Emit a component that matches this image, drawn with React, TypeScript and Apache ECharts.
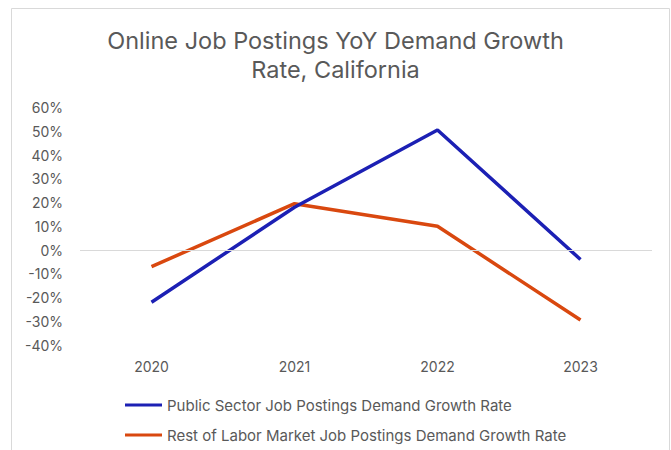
import React, { useEffect, useRef } from "react";
import * as echarts from "echarts";

const categories = ["2020", "2021", "2022", "2023"];
const publicSector = [-22, 18, 50.5, -4];
const restOfMarket = [-7, 19.5, 10, -29.5];
const seriesNames = [
  "Public Sector Job Postings Demand Growth Rate",
  "Rest of Labor Market Job Postings Demand Growth Rate",
];
const titleText = "Online Job Postings YoY Demand Growth\nRate, California";

export default function App() {
  const ref = useRef<HTMLDivElement>(null);
  useEffect(() => {
    document.body.style.margin = "0";
    const chart = echarts.init(ref.current!, null, { renderer: "svg" });
    const font = "Inter, 'Liberation Sans', Arial, sans-serif";
    const legendBase = {
      orient: "horizontal",
      left: 125,
      padding: 0,
      itemWidth: 37,
      itemHeight: 3,
      icon: "rect",
      textStyle: { color: "#595959", fontSize: 15, lineHeight: 16, fontFamily: font },
    };
    chart.setOption({
      animation: false,
      backgroundColor: "#ffffff",
      textStyle: { fontFamily: font },
      title: {
        text: titleText,
        left: "center",
        top: 21,
        textStyle: {
          fontSize: 23.5,
          fontWeight: "normal",
          color: "#595959",
          lineHeight: 29,
          fontFamily: font,
        },
      },
      graphic: [
        {
          type: "rect",
          shape: { x: 11.5, y: 8.5, width: 658, height: 460 },
          style: { fill: "none", stroke: "#d9d9d9", lineWidth: 1 },
          silent: true,
        },
      ],
      grid: { left: 80, right: 19, top: 107.5, bottom: 105, containLabel: false },
      xAxis: {
        type: "category",
        data: categories,
        boundaryGap: true,
        axisLine: { show: false },
        axisTick: { show: false },
        axisLabel: { color: "#595959", fontSize: 14, margin: 14, fontFamily: font },
        splitLine: { show: false },
      },
      yAxis: {
        type: "value",
        min: -40,
        max: 60,
        interval: 10,
        axisLine: { show: false },
        axisTick: { show: false },
        splitLine: { show: false },
        axisLabel: {
          color: "#595959",
          fontSize: 14,
          margin: 17,
          fontFamily: font,
          formatter: (v: number) => `${v}%`,
        },
      },
      legend: [
        { ...legendBase, top: 397, data: [seriesNames[0]] },
        { ...legendBase, top: 427, data: [seriesNames[1]] },
      ],
      series: [
        {
          name: seriesNames[0],
          type: "line",
          data: publicSector,
          symbol: "none",
          lineStyle: { color: "#1c20b4", width: 3.5 },
          itemStyle: { color: "#1c20b4" },
          markLine: {
            silent: true,
            symbol: "none",
            label: { show: false },
            lineStyle: { color: "#d9d9d9", width: 1, type: "solid" },
            data: [{ yAxis: 0 }],
          },
          z: 3,
        },
        {
          name: seriesNames[1],
          type: "line",
          data: restOfMarket,
          symbol: "none",
          lineStyle: { color: "#d9480f", width: 3.5 },
          itemStyle: { color: "#d9480f" },
          z: 2,
        },
      ],
    });
    return () => chart.dispose();
  }, []);
  return <div ref={ref} style={{ width: 671, height: 450 }} />;
}
